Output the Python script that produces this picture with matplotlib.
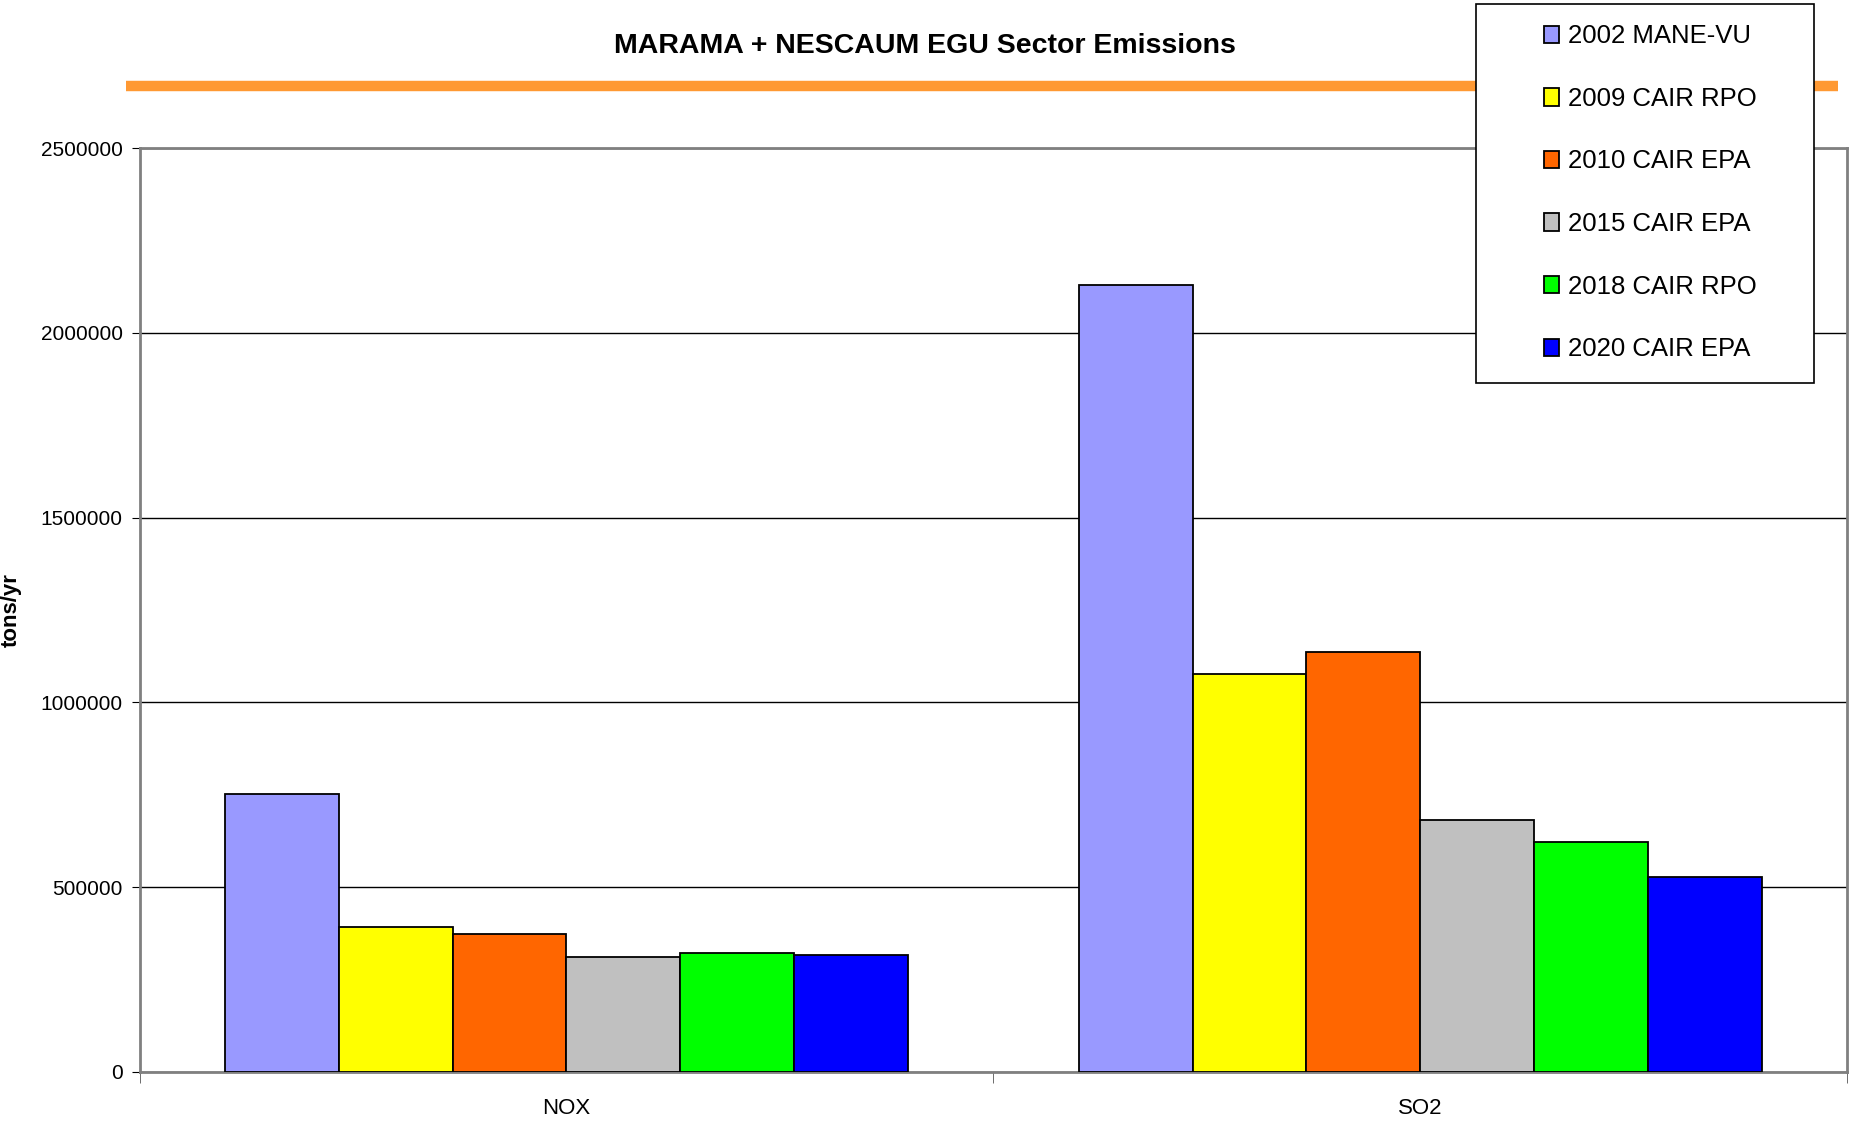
import numpy as np
import matplotlib
matplotlib.use("Agg")
import matplotlib.pyplot as plt
from matplotlib.patches import Rectangle
from matplotlib.lines import Line2D

categories = ["NOX", "SO2"]
series = ["2002 MANE-VU", "2009 CAIR RPO", "2010 CAIR EPA",
          "2015 CAIR EPA", "2018 CAIR RPO", "2020 CAIR EPA"]
nox = [751000, 393000, 374000, 310000, 323000, 316000]
so2 = [2129000, 1077000, 1135000, 681000, 623000, 527000]
colors = ["#9999FF", "#FFFF00", "#FF6600", "#C0C0C0", "#00FF00", "#0000FF"]
yticks = [0, 500000, 1000000, 1500000, 2000000, 2500000]

plt.rcParams["font.family"] = ["Liberation Sans", "DejaVu Sans"]

fig = plt.figure(figsize=(18.53, 11.24), dpi=100)
ax = fig.add_axes([0.0753, 0.0463, 0.9215, 0.822])

x = np.arange(len(categories))
w = 0.8 / len(series)
for i, name in enumerate(series):
    vals = [nox[i], so2[i]]
    ax.bar(x - 0.4 + w * (i + 0.5), vals, width=w, color=colors[i],
           edgecolor="black", linewidth=1.3, label=name, zorder=3)

ax.set_xlim(-0.5, 1.5)
ax.set_ylim(0, 2500000)
ax.set_yticks(yticks)
ax.set_yticklabels([str(v) for v in yticks], fontsize=15)
ax.yaxis.grid(True, color="black", linewidth=1, zorder=0)
ax.set_xticks(x)
ax.set_xticklabels(categories, fontsize=16)
ax.set_xticks([-0.5, 0.5, 1.5], minor=True)
ax.tick_params(axis="x", which="major", length=0, pad=19)
ax.tick_params(axis="x", which="minor", length=8, direction="out", color="#555555")
ax.tick_params(axis="y", length=6, direction="out", pad=6)
for s in ax.spines.values():
    s.set_color("#808080")
    s.set_linewidth(2)
ax.set_ylabel("tons/yr", fontsize=16, fontweight="bold")
ax.yaxis.set_label_coords(-0.069, 0.5)

fig.text(0.499, 0.959, "MARAMA + NESCAUM EGU Sector Emissions", ha="center", va="center",
         fontsize=20.5, fontweight="bold")
fig.add_artist(Line2D([126 / 1853, 1838 / 1853], [0.9235, 0.9235],
                      color="#FF9933", linewidth=7.5, solid_capstyle="butt"))

# legend box
fig.add_artist(Rectangle((1476 / 1853, 1 - 383 / 1124), 338 / 1853, 379 / 1124,
                         transform=fig.transFigure, facecolor="white",
                         edgecolor="black", linewidth=1.2, zorder=5))
handles, labels = ax.get_legend_handles_labels()
leg = fig.legend(handles, labels, loc="center", bbox_to_anchor=(0.8905, 0.8285),
                 frameon=False, prop={"size": 18.5},
                 labelspacing=1.5, handlelength=0.6, handleheight=0.65,
                 handletextpad=0.35)
leg.set_zorder(6)

fig.savefig("out.png", dpi=100)
